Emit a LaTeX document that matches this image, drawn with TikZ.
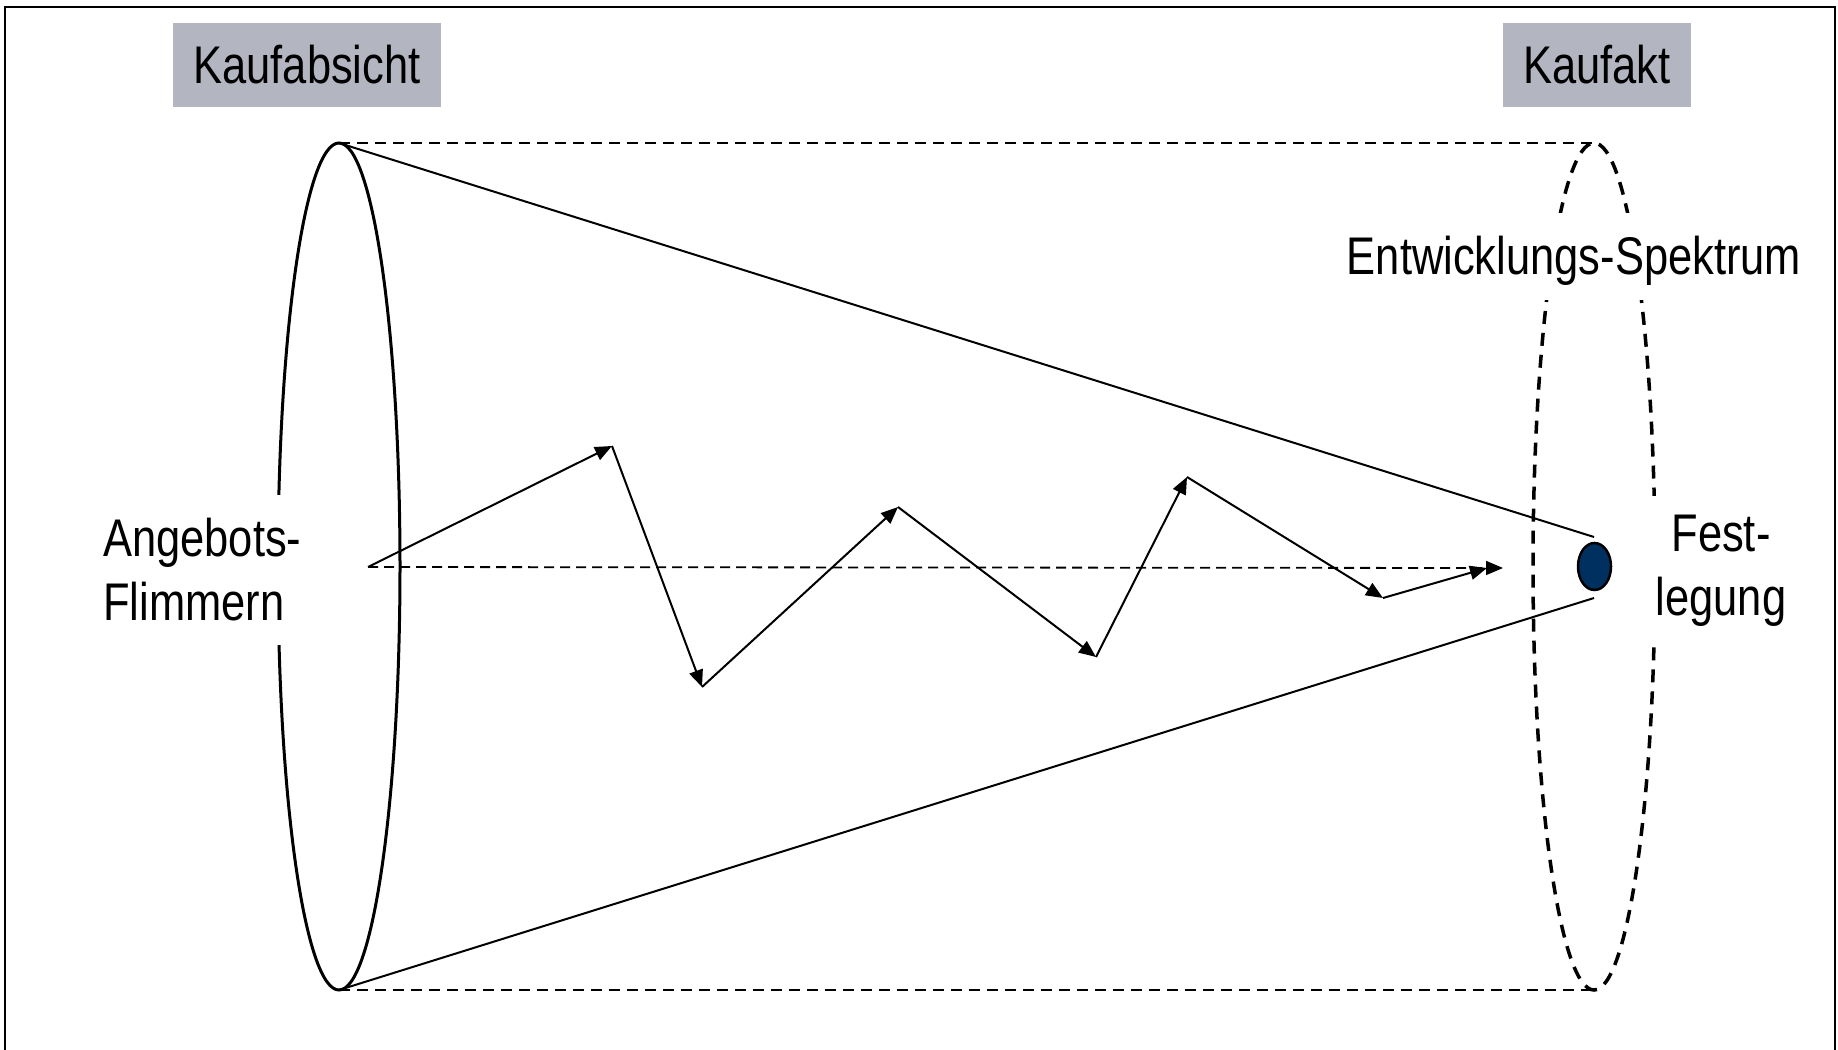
\documentclass[tikz,border=0pt]{standalone}
\usepackage{fontspec}
\setmainfont{Liberation Sans}[FakeStretch=0.82]
\usetikzlibrary{arrows.meta,shapes.geometric}
\definecolor{boxgray}{RGB}{179,181,193}
\definecolor{dotnavy}{RGB}{0,48,96}
\begin{document}
\begin{tikzpicture}[x=1pt,y=-1pt,
  every node/.style={font=\fontsize{53}{64}\selectfont},
  labelbox/.style={fill=boxgray, minimum height=84pt, inner sep=0pt},
  txt/.style={fill=white, inner xsep=6pt, inner ysep=0pt},
  hdash/.style={line width=1.8pt, dash pattern=on 11pt off 7pt},
  cone/.style={line width=2pt},
  zz/.style={line width=2pt, -{Triangle[length=17pt,width=14pt]}},
  tip/.style={-{Triangle[length=17pt,width=14pt]}}
]
\useasboundingbox (0,0) rectangle (1838,1049);
% frame
\draw[line width=2pt] (5,1070) -- (5,7) -- (1835,7) -- (1835,1070);

% title boxes
\node[labelbox, minimum width=268pt] (absicht) at (307,65) {Kaufabsicht};
\node[labelbox, minimum width=188pt] (akt) at (1597,65) {Kaufakt};

% ellipses
\node[ellipse, draw, line width=3pt, minimum width=122pt, minimum height=847pt,
      inner sep=0pt, outer sep=0pt] (L) at (339,566.5) {};
\node[ellipse, draw, line width=3.5pt, dash pattern=on 13pt off 9pt,
      minimum width=122pt, minimum height=847pt,
      inner sep=0pt, outer sep=0pt] (R) at (1594,566.5) {};

% text nodes masking the ellipses
\node[txt, align=left, anchor=west, minimum height=150pt] (ang) at (97,570) {Angebots-\\Flimmern};
\node[txt, align=center, minimum height=150pt] (fest) at (1721,571) {Fest-\\legung};
\node[txt, anchor=base, text height=61pt, text depth=26pt] (ent) at (1574,274) {Entwicklungs-Spektrum};

% dashed horizontal edges
\draw[hdash] (L.north) -- (R.north);
\draw[hdash] (L.south) -- (R.south);

% cone
\coordinate (ct) at (1594,537);
\coordinate (cb) at (1594,598);
\draw[cone] (L.north) -- (ct);
\draw[cone] (L.south) -- (cb);

% central dashed arrow
\coordinate (P0) at (368,567);
\coordinate (Q) at (1503,568);
\draw[line width=1.8pt, dash pattern=on 10pt off 6pt, tip] (P0) -- (Q);

% zigzag
\coordinate (P1) at (612,446);
\coordinate (P2) at (702,687);
\coordinate (P3) at (898,507);
\coordinate (P4) at (1096,657);
\coordinate (P5) at (1187,477);
\coordinate (P6) at (1383,598);
\coordinate (P7) at (1487,568);
\draw[zz] (P0) -- (P1);
\draw[zz] (P1) -- (P2);
\draw[zz] (P2) -- (P3);
\draw[zz] (P3) -- (P4);
\draw[zz] (P4) -- (P5);
\draw[zz] (P5) -- (P6);
\draw[zz] (P6) -- (P7);

% decision point
\node[ellipse, draw, line width=2.5pt, fill=dotnavy, minimum width=33pt,
      minimum height=47pt, inner sep=0pt] (dot) at (1594.5,566.5) {};
\end{tikzpicture}
\end{document}
